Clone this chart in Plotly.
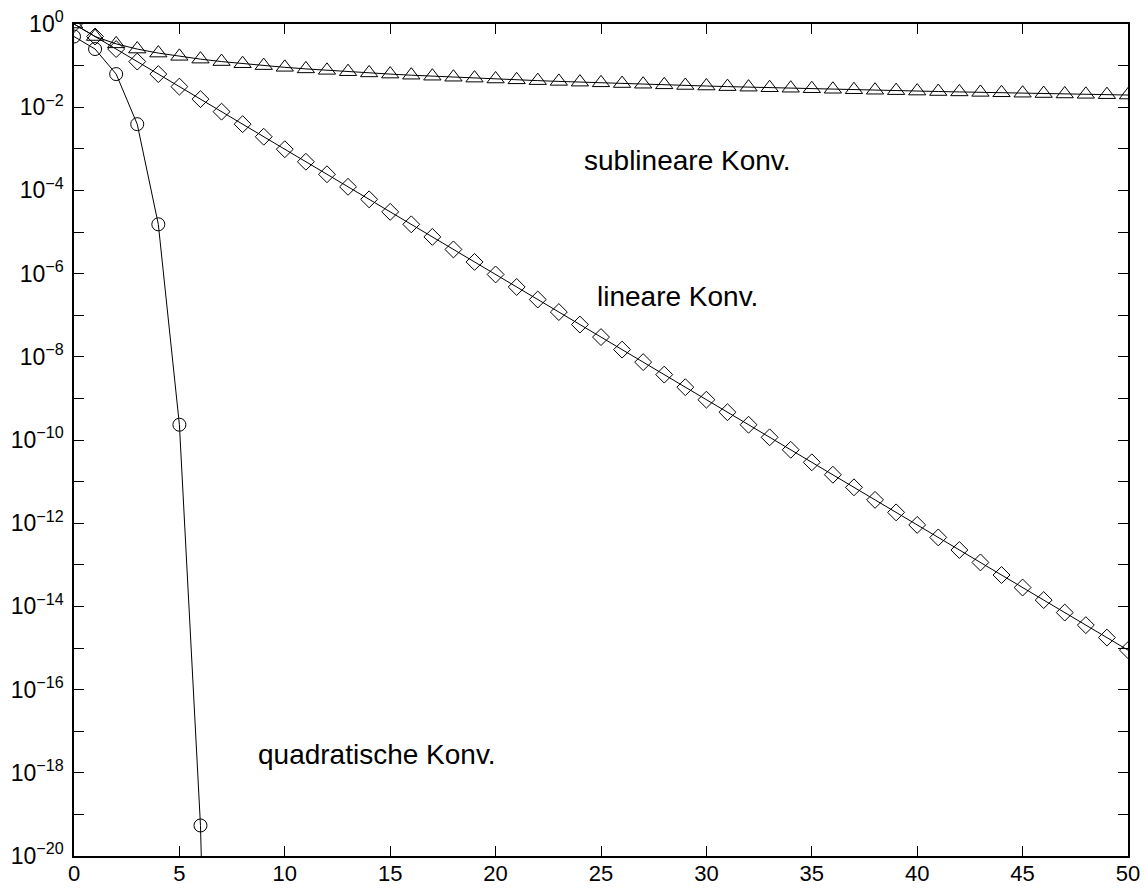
import plotly.graph_objects as go

k = list(range(51))

sublinear = [1.0, 0.5, 0.333, 0.25, 0.2, 0.167, 0.143, 0.125, 0.111, 0.1,
             0.0909, 0.0833, 0.0769, 0.0714, 0.0667, 0.0625, 0.0588, 0.0556, 0.0526, 0.05,
             0.0476, 0.0455, 0.0435, 0.0417, 0.04, 0.0385, 0.037, 0.0357, 0.0345, 0.0333,
             0.0323, 0.03125, 0.0303, 0.0294, 0.0286, 0.0278, 0.027, 0.0263, 0.0256, 0.025,
             0.0244, 0.0238, 0.0233, 0.0227, 0.0222, 0.0217, 0.0213, 0.0208, 0.0204, 0.02,
             0.0196]

linear = [1.0, 0.5, 0.25, 0.125, 0.0625, 0.03125, 0.015625, 7.81e-3, 3.91e-3, 1.95e-3,
          9.77e-4, 4.88e-4, 2.44e-4, 1.22e-4, 6.10e-5, 3.05e-5, 1.53e-5, 7.63e-6, 3.81e-6, 1.91e-6,
          9.54e-7, 4.77e-7, 2.38e-7, 1.19e-7, 5.96e-8, 2.98e-8, 1.49e-8, 7.45e-9, 3.73e-9, 1.86e-9,
          9.31e-10, 4.66e-10, 2.33e-10, 1.16e-10, 5.82e-11, 2.91e-11, 1.46e-11, 7.28e-12, 3.64e-12, 1.82e-12,
          9.09e-13, 4.55e-13, 2.27e-13, 1.14e-13, 5.68e-14, 2.84e-14, 1.42e-14, 7.11e-15, 3.55e-15, 1.78e-15,
          8.88e-16]

k_quad = [0, 1, 2, 3, 4, 5, 6, 7]
quadratic = [0.5, 0.25, 0.0625, 3.91e-3, 1.53e-5, 2.33e-10, 5.42e-20, 2.94e-39]

x_ticks = [0, 5, 10, 15, 20, 25, 30, 35, 40, 45, 50]
y_major_exponents = [-20, -18, -16, -14, -12, -10, -8, -6, -4, -2, 0]
y_minor_exponents = [-19, -17, -15, -13, -11, -9, -7, -5, -3, -1]

labels = [
    ("sublineare Konv.", 29.1, -3.27),
    ("lineare Konv.", 28.65, -6.56),
    ("quadratische Konv.", 14.37, -17.57),
]

FONT = "Arial"

fig = go.Figure()

def add(xs, ys, symbol, size):
    fig.add_trace(go.Scatter(
        x=xs, y=ys, mode="lines+markers",
        line=dict(color="black", width=1),
        marker=dict(symbol=symbol, size=size, color="black",
                    line=dict(color="black", width=1)),
        showlegend=False, cliponaxis=True,
    ))

add(k, sublinear, "triangle-up-open", 15)
add(k, linear, "diamond-open", 13)
add(k_quad, quadratic, "circle-open", 13)

for text, x, ey in labels:
    fig.add_annotation(x=x, y=ey, text=text, showarrow=False,
                       font=dict(family=FONT, size=28, color="black"))

ytext = ["10<sup>%s</sup>" % (str(e).replace("-", "\u2212")) for e in y_major_exponents]

fig.update_layout(
    width=1146, height=888,
    margin=dict(l=74, r=18, t=24, b=32),
    paper_bgcolor="white", plot_bgcolor="white",
    font=dict(family=FONT, size=22, color="black"),
)
fig.update_xaxes(
    range=[0, 50], tickvals=x_ticks, ticktext=[str(v) for v in x_ticks],
    ticks="inside", ticklen=10, tickwidth=1, tickcolor="black",
    tickfont=dict(family=FONT, size=22, color="black"),
    showline=True, linecolor="black", linewidth=1.5, mirror="ticks",
    showgrid=False, zeroline=False, ticklabelstandoff=-3, automargin=False,
)
fig.update_yaxes(
    type="log", range=[-20, 0],
    tickvals=[10.0 ** e for e in y_major_exponents], ticktext=ytext,
    ticks="inside", ticklen=10, tickwidth=1, tickcolor="black",
    minor=dict(tickvals=[10.0 ** e for e in y_minor_exponents], ticks="inside",
               ticklen=10, tickwidth=1, tickcolor="black", showgrid=False),
    tickfont=dict(family=FONT, size=23, color="black"),
    showline=True, linecolor="black", linewidth=1.5, mirror="ticks",
    showgrid=False, zeroline=False, ticklabelstandoff=4, automargin=False,
)

fig.write_html("out.html")
